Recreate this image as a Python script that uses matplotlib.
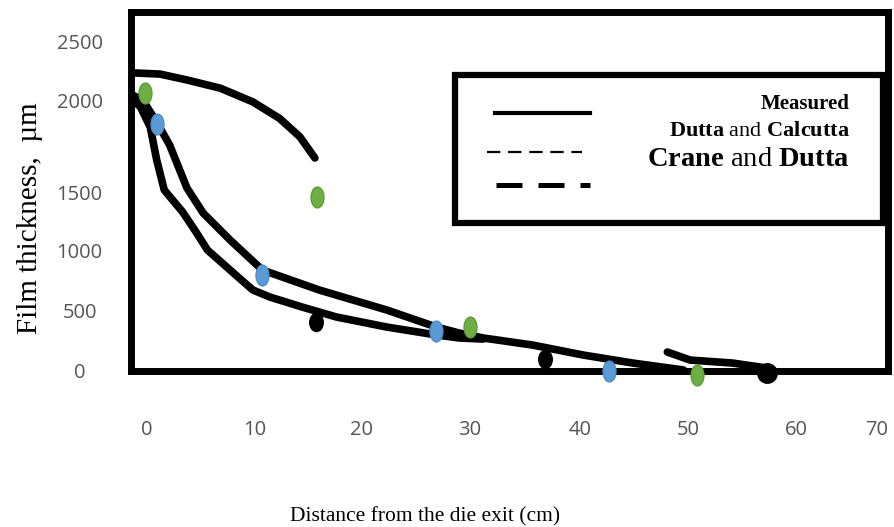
import numpy as np
import matplotlib
matplotlib.use("Agg")
import matplotlib.pyplot as plt
from matplotlib.lines import Line2D
from matplotlib.patches import Rectangle
from matplotlib.path import Path
from matplotlib.transforms import Affine2D

plt.rcParams['mathtext.fontset'] = 'custom'
plt.rcParams['mathtext.rm'] = 'Liberation Serif'
plt.rcParams['mathtext.bf'] = 'Liberation Serif:bold'
plt.rcParams['mathtext.it'] = 'Liberation Serif:italic'

# ---------------- data ----------------
x_ticks = [0, 10, 20, 30, 40, 50, 60, 70]
x_tick_labels = ['0', '10', '20', '30', '40', '50', '60', '70']
y_ticks = [0, 500, 1000, 1500, 2000, 2500]
y_tick_labels = ['0', '500', '1000', '1500', '2000', '2500']

# upper arc
arc_x = [-1.3, 1.2, 3.7, 6.8, 9.8, 12.3, 14.2, 15.6]
arc_y = [2230, 2220, 2170, 2100, 1990, 1900, 1800, 1685]

# right-hand decay curve
right_x = [-1.3, -0.4, 0.9, 2.1, 3.7, 5.2, 7.7, 10.7, 16.0, 22.3, 26.9, 29.0,
           31.2, 35.7, 40.3, 44.9, 49.6]
right_y = [2040, 2000, 1880, 1755, 1522, 1319, 1086, 833, 667, 500, 358, 308,
           267, 208, 125, 58, 0]

# left-hand decay curve
left_x = [-1.3, -0.6, 0.3, 0.9, 1.6, 3.3, 4.6, 5.6, 7.7, 9.8, 11.4, 14.4,
          17.6, 22.3, 26.9, 29.0, 31.2]
left_y = [2000, 1962, 1853, 1674, 1511, 1328, 1147, 1000, 833, 667, 608, 525,
          442, 358, 292, 267, 258]

# short tail segment near the end
tail_x = [48.1, 50.2, 54.1, 57.2]
tail_y = [150, 83, 58, 17]

green_x = [-0.2, 15.8, 30.0, 50.8]
green_y = [2059, 1457, 358, -42]
blue_x = [0.9, 10.7, 26.9, 42.7]
blue_y = [1870, 792, 325, -8]
black_x = [15.7, 36.8]
black_y = [400, 92]
black_end_x = [57.3]
black_end_y = [-25]

legend_labels = [r'Measured',
                 r'$\mathbf{Dutta}$ and $\mathbf{Calcutta}$',
                 r'$\mathbf{Crane}$ and $\mathbf{Dutta}$']

# ---------------- axis scales (as drawn: uneven label spacing) ----------------
X_VALS = np.array([-10, 0, 10, 20, 30, 40, 50, 60, 70, 80], dtype=float)
X_POS = np.array([39, 147, 255, 362, 470, 580, 688, 797, 877, 957], dtype=float)
Y_VALS = np.array([-500, 0, 500, 1000, 1500, 2000, 2500, 3000], dtype=float)
Y_POS = -np.array([430, 370, 310, 250, 192, 100, 41, -18], dtype=float)


def fwd_x(v):
    return np.interp(v, X_VALS, X_POS)


def inv_x(p):
    return np.interp(p, X_POS, X_VALS)


def fwd_y(v):
    return np.interp(v, Y_VALS, Y_POS)


def inv_y(p):
    return np.interp(p, Y_POS, Y_VALS)


W, H = 895, 527
fig = plt.figure(figsize=(W / 100, H / 100), dpi=100)
fx = lambda px: px / W
fy = lambda py: 1 - py / H

L, R, T, B = 131, 888, 12, 371
ax = fig.add_axes([fx(L), fy(B), (R - L) / W, (B - T) / H])
ax.set_xscale('function', functions=(fwd_x, inv_x))
ax.set_yscale('function', functions=(fwd_y, inv_y))
ax.set_xlim(-1.48, 71.4)
ax.set_ylim(-8.3, 2746)

for s in ax.spines.values():
    s.set_linewidth(5)
    s.set_color('black')

lw = 5.5
for xs, ys in [(arc_x, arc_y), (right_x, right_y), (left_x, left_y), (tail_x, tail_y)]:
    ax.plot(xs, ys, color='black', lw=lw, solid_capstyle='round',
            solid_joinstyle='round', zorder=3)

ell = Path.unit_circle().transformed(Affine2D().scale(0.62, 1.0))
ell_b = Path.unit_circle().transformed(Affine2D().scale(0.75, 1.0))
ax.plot(green_x, green_y, linestyle='none', marker=ell, ms=15,
        color='#6FAE45', mec='#5E9C38', mew=1, zorder=4, clip_on=False)
ax.plot(blue_x, blue_y, linestyle='none', marker=ell, ms=15,
        color='#5B9BD5', mec='#4C8CC8', mew=1, zorder=4, clip_on=False)
ax.plot(black_x, black_y, linestyle='none', marker=ell_b, ms=13,
        color='black', zorder=4, clip_on=False)
ax.plot(black_end_x, black_end_y, linestyle='none', marker='o', ms=14,
        color='black', zorder=4, clip_on=False)

ax.set_xticks(x_ticks)
ax.set_xticklabels(x_tick_labels)
ax.set_yticks(y_ticks)
ax.set_yticklabels(y_tick_labels)
ax.minorticks_off()
ax.tick_params(axis='x', length=0, pad=35, labelsize=14.5, labelcolor='#555555')
ax.tick_params(axis='y', length=0, pad=37, labelsize=14.5, labelcolor='#555555')
for t in ax.get_xticklabels() + ax.get_yticklabels():
    t.set_fontfamily('Open Sans')
for t in ax.get_yticklabels():
    t.set_ha('center')

ax.set_xlabel('Distance from the die exit (cm)', family='Liberation Serif',
              fontsize=15.5)
ax.xaxis.set_label_coords((425 - L) / (R - L), (B - 507) / (B - T))
ax.set_ylabel('Film thickness,  µm', family='Liberation Serif', fontsize=21)
ax.yaxis.set_label_coords((43 - L) / (R - L), (B - 218) / (B - T))

# ---------------- legend box (drawn as in the picture) ----------------
fig.patches.append(Rectangle((fx(455), fy(223)), (883 - 455) / W, (223 - 75) / H,
                             transform=fig.transFigure, fill=False,
                             lw=4.5, ec='black', zorder=5))
fig.lines.append(Line2D([fx(495), fx(590)], [fy(113), fy(113)],
                        transform=fig.transFigure, color='black', lw=3))
fig.lines.append(Line2D([fx(487), fx(582)], [fy(152), fy(152)],
                        transform=fig.transFigure, color='black', lw=1.6,
                        dashes=(6, 3.5)))
fig.lines.append(Line2D([fx(496), fx(590)], [fy(185), fy(185)],
                        transform=fig.transFigure, color='black', lw=3.6,
                        dashes=(5.2, 3.2)))
fig.text(fx(850), fy(104), legend_labels[0], ha='right', va='center',
         family='Liberation Serif', fontweight='bold', fontsize=15)
fig.text(fx(850), fy(132), legend_labels[1], ha='right', va='center',
         family='Liberation Serif', fontsize=16)
fig.text(fx(850), fy(160), legend_labels[2], ha='right', va='center',
         family='Liberation Serif', fontsize=20.5)

fig.savefig('out.png', dpi=100)
